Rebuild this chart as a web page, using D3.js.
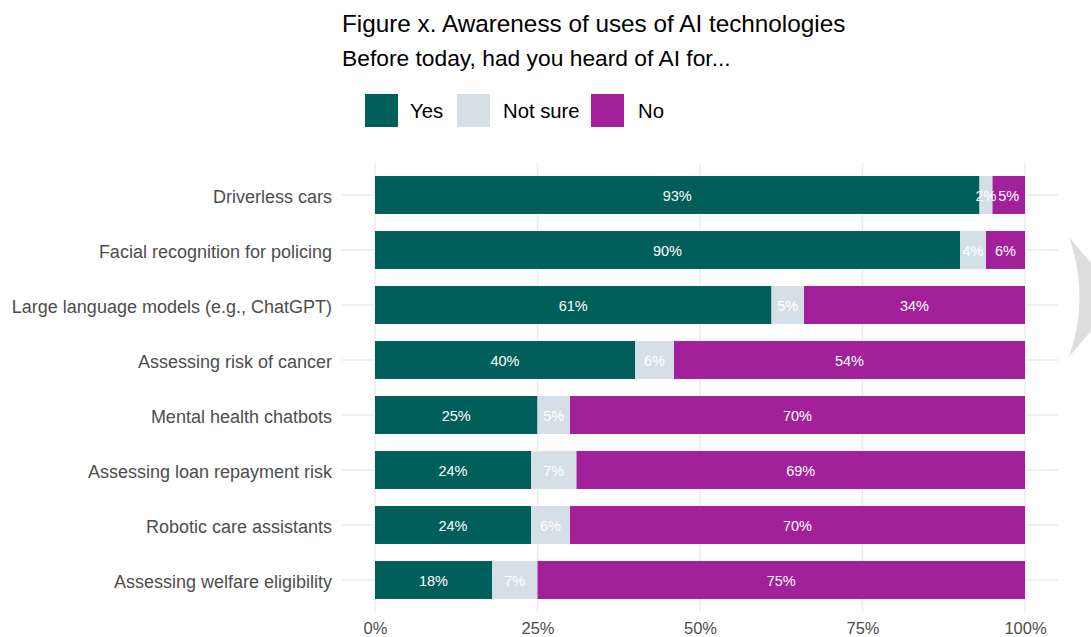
<!DOCTYPE html>
<html>
<head>
<meta charset="utf-8">
<script src="https://cdn.jsdelivr.net/npm/d3@7"></script>
<style>
  html, body { margin: 0; padding: 0; background: #ffffff; }
  svg { display: block; font-family: "Liberation Sans", Arial, sans-serif; }
</style>
</head>
<body>
<svg id="chart" width="1091" height="637"></svg>
<script>
// Survey items, top to bottom
const categories = [
  "Driverless cars",
  "Facial recognition for policing",
  "Large language models (e.g., ChatGPT)",
  "Assessing risk of cancer",
  "Mental health chatbots",
  "Assessing loan repayment risk",
  "Robotic care assistants",
  "Assessing welfare eligibility"
];

// Share of respondents (%) per answer
const yesValues     = [93, 90, 61, 40, 25, 24, 24, 18];
const notSureValues = [2, 4, 5, 6, 5, 7, 6, 7];
const noValues      = [5, 6, 34, 54, 70, 69, 70, 75];

const seriesNames = ["Yes", "Not sure", "No"];
const seriesColors = ["#005f5b", "#d5dfe7", "#a2219a"];
const tickValues = [0, 25, 50, 75, 100];
const tickLabels = ["0%", "25%", "50%", "75%", "100%"];

const svg = d3.select("#chart");

// Decorative grey shape at the right edge
svg.append("path")
  .attr("d", "M1069,237 L1091,263 L1091,331 L1069,357 Q1090,297 1069,237 Z")
  .attr("fill", "#dedede");

// Titles
svg.append("text").attr("x", 342).attr("y", 32)
  .attr("font-size", 24.3).attr("fill", "#000").text("Figure x. Awareness of uses of AI technologies");
svg.append("text").attr("x", 342).attr("y", 66)
  .attr("font-size", 22.8).attr("fill", "#000").text("Before today, had you heard of AI for...");

// Legend
const legendItems = [
  { x: 365, tx: 410 },
  { x: 457, tx: 503 },
  { x: 591, tx: 638 }
];
legendItems.forEach((it, i) => {
  svg.append("rect").attr("x", it.x).attr("y", 94).attr("width", 33).attr("height", 33)
    .attr("fill", seriesColors[i]);
  svg.append("text").attr("x", it.tx).attr("y", 111).attr("dy", "0.36em")
    .attr("font-size", 20.3).attr("fill", "#000").text(seriesNames[i]);
});

// Scales
const x = d3.scaleLinear().domain([0, 100]).range([375, 1025]);
const y = d3.scaleBand().domain(categories).range([167.5, 607.5])
  .paddingInner(0.31).paddingOuter(0.155);

// Grid
const grid = svg.append("g");
grid.selectAll("line.v").data(tickValues).join("line")
  .attr("x1", d => x(d)).attr("x2", d => x(d))
  .attr("y1", 163).attr("y2", 612)
  .attr("stroke", "#ebebeb").attr("stroke-width", 1.5);
grid.selectAll("line.h").data(categories).join("line")
  .attr("x1", 342).attr("x2", 1058)
  .attr("y1", d => y(d) + y.bandwidth() / 2).attr("y2", d => y(d) + y.bandwidth() / 2)
  .attr("stroke", "#ebebeb").attr("stroke-width", 1.5);

// Stack the three answers
const rows = categories.map((c, i) => ({
  category: c, Yes: yesValues[i], "Not sure": notSureValues[i], No: noValues[i]
}));
const stacked = d3.stack().keys(seriesNames)(rows);

const layers = svg.append("g").selectAll("g").data(stacked).join("g")
  .attr("fill", (d, i) => seriesColors[i]);
layers.selectAll("rect").data(d => d).join("rect")
  .attr("x", d => x(d[0]))
  .attr("width", d => x(d[1]) - x(d[0]))
  .attr("y", d => y(d.data.category))
  .attr("height", y.bandwidth());

// Value labels
const labels = svg.append("g");
stacked.forEach(layer => {
  labels.selectAll(null).data(layer).join("text")
    .attr("x", d => (x(d[0]) + x(d[1])) / 2)
    .attr("y", d => y(d.data.category) + y.bandwidth() / 2)
    .attr("dy", "0.38em")
    .attr("text-anchor", "middle")
    .attr("font-size", 14.5)
    .attr("fill", "#ffffff")
    .text(d => (d[1] - d[0]) + "%");
});

// Category axis
const yAxis = svg.append("g").attr("transform", "translate(375,0)")
  .call(d3.axisLeft(y).tickSize(0).tickPadding(43));
yAxis.select(".domain").remove();
yAxis.selectAll("text").attr("font-size", 18).attr("fill", "#4d4d4d").attr("dy", "0.42em")
  .attr("font-family", "Liberation Sans, Arial, sans-serif");

// Percentage axis
const xAxis = svg.append("g").attr("transform", "translate(0,612)")
  .call(d3.axisBottom(x).tickValues(tickValues).tickFormat((d, i) => tickLabels[i])
    .tickSize(0).tickPadding(10));
xAxis.select(".domain").remove();
xAxis.selectAll("text").attr("font-size", 16.5).attr("fill", "#4d4d4d")
  .attr("font-family", "Liberation Sans, Arial, sans-serif");
</script>
</body>
</html>
